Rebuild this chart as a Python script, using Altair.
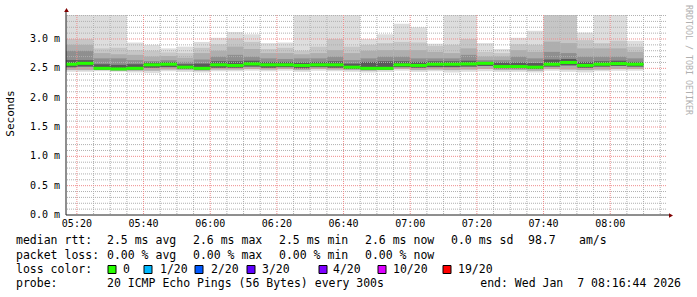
import altair as alt
import pandas as pd

# ---------------- data ----------------
times = ["05:15", "05:20", "05:25", "05:30", "05:35", "05:40", "05:45", "05:50", "05:55",
         "06:00", "06:05", "06:10", "06:15", "06:20", "06:25", "06:30", "06:35", "06:40",
         "06:45", "06:50", "06:55", "07:00", "07:05", "07:10", "07:15", "07:20", "07:25",
         "07:30", "07:35", "07:40", "07:45", "07:50", "07:55", "08:00", "08:05"]

median = [2.57, 2.585, 2.50, 2.49, 2.50, 2.56, 2.57, 2.52, 2.50, 2.56, 2.55, 2.575, 2.56,
          2.56, 2.55, 2.56, 2.56, 2.52, 2.50, 2.50, 2.56, 2.55, 2.57, 2.57, 2.575, 2.585,
          2.53, 2.53, 2.52, 2.57, 2.60, 2.55, 2.57, 2.58, 2.57]

smoke_max = [3.6, 3.6, 3.6, 3.6, 2.94, 2.90, 2.84, 2.87, 2.95, 3.02, 3.12, 3.08, 2.93,
             2.94, 3.6, 3.6, 3.6, 3.6, 3.0, 3.08, 3.26, 3.20, 2.92, 3.6, 3.6, 2.93,
             2.83, 3.02, 3.14, 3.6, 3.6, 3.11, 3.6, 3.6, 2.97]
band2_hi = [3.0, 3.0, 2.84, 2.85, 2.81, 2.80, 2.77, 2.76, 2.85, 2.91, 3.01, 2.95, 2.83,
            2.85, 2.80, 2.87, 3.0, 2.87, 2.90, 2.93, 2.95, 2.94, 2.88, 2.90, 3.0, 2.78,
            2.76, 2.91, 2.90, 3.6, 3.6, 2.98, 2.93, 2.97, 2.87]
band3_hi = [2.90, 2.90, 2.76, 2.74, 2.73, 2.70, 2.71, 2.68, 2.76, 2.80, 2.87, 2.83, 2.76,
            2.76, 2.74, 2.76, 2.81, 2.76, 2.80, 2.81, 2.81, 2.81, 2.78, 2.76, 2.84, 2.70,
            2.70, 2.81, 2.78, 2.955, 2.93, 2.84, 2.84, 2.84, 2.78]
band4_hi = [2.80, 2.80, 2.67, 2.67, 2.64, 2.625, 2.64, 2.61, 2.65, 2.70, 2.73, 2.70, 2.67,
            2.66, 2.67, 2.67, 2.70, 2.64, 2.67, 2.70, 2.70, 2.67, 2.67, 2.67, 2.73, 2.64,
            2.64, 2.70, 2.67, 2.78, 2.76, 2.70, 2.70, 2.70, 2.67]
band5_hi = [2.64, 2.64, 2.57, 2.56, 2.57, 2.60, 2.61, 2.57, 2.58, 2.62, 2.62, 2.63, 2.61,
            2.61, 2.60, 2.61, 2.62, 2.58, 2.61, 2.62, 2.62, 2.61, 2.62, 2.62, 2.63, 2.61,
            2.60, 2.60, 2.59, 2.65, 2.66, 2.61, 2.62, 2.63, 2.61]
ping_min = [2.44, 2.44, 2.45, 2.44, 2.43, 2.42, 2.45, 2.44, 2.43, 2.45, 2.45, 2.46, 2.45,
            2.46, 2.44, 2.46, 2.45, 2.44, 2.43, 2.44, 2.46, 2.44, 2.45, 2.43, 2.44, 2.45,
            2.44, 2.44, 2.43, 2.46, 2.44, 2.43, 2.45, 2.46, 2.46]
band2_lo = [2.47, 2.47, 2.47, 2.46, 2.46, 2.46, 2.48, 2.47, 2.46, 2.48, 2.48, 2.49, 2.48,
            2.49, 2.47, 2.49, 2.48, 2.47, 2.46, 2.47, 2.49, 2.47, 2.48, 2.47, 2.48, 2.49,
            2.47, 2.47, 2.46, 2.49, 2.48, 2.47, 2.48, 2.49, 2.49]
band3_lo = [2.52, 2.53, 2.48, 2.47, 2.48, 2.51, 2.52, 2.49, 2.48, 2.51, 2.51, 2.53, 2.51,
            2.52, 2.50, 2.52, 2.51, 2.49, 2.48, 2.48, 2.52, 2.51, 2.52, 2.52, 2.53, 2.54,
            2.50, 2.50, 2.49, 2.53, 2.55, 2.51, 2.53, 2.54, 2.53]

x_tick_values = [320, 340, 360, 380, 400, 420, 440, 460, 480]   # minutes since midnight
x_tick_labels = ["05:20", "05:40", "06:00", "06:20", "06:40", "07:00", "07:20", "07:40", "08:00"]
y_tick_values = [0.0, 0.5, 1.0, 1.5, 2.0, 2.5, 3.0]
y_tick_labels = ["0.0 m", "0.5 m", "1.0 m", "1.5 m", "2.0 m", "2.5 m", "3.0 m"]

rtt_stats = ["2.5 ms avg", "2.6 ms max", "2.5 ms min", "2.6 ms now", "0.0 ms sd", "98.7", "am/s"]
loss_stats = ["0.00 % avg", "0.00 % max", "0.00 % min", "0.00 % now"]
loss_labels = ["0", "1/20", "2/20", "3/20", "4/20", "10/20", "19/20"]
loss_colors = ["#26ff00", "#00b8ff", "#0059ff", "#5e00ff", "#7e00ff", "#dd00ff", "#ff0000"]
probe_text = "20 ICMP Echo Pings (56 Bytes) every 300s"
end_text = "end: Wed Jan\u00a0\u00a07 08:16:44 2026"

# ---------------- layout / style ----------------
PAD_L, PAD_T = 66, 15
W, H = 600, 200
T0, T1 = 316.7333, 496.7333
band_colors = ["#dddddd", "#c6c6c6", "#aeaeae", "#8f8f8f", "#5a5a5a"]
FONT = "DejaVu Sans Mono"

def minutes(s):
    h, m = s.split(":")
    return int(h) * 60 + int(m)

rows = []
for k, t in enumerate(times):
    s = minutes(t)
    his = [smoke_max[k], band2_hi[k], band3_hi[k], band4_hi[k], band5_hi[k]]
    los = [ping_min[k], band2_lo[k], band2_lo[k], band3_lo[k], band3_lo[k]]
    for j in range(5):
        rows.append(dict(start=s, end=s + 5, lo=los[j], hi=his[j], band=j))
smoke = pd.DataFrame(rows)

med = pd.DataFrame({"start": [minutes(t) for t in times],
                    "end": [minutes(t) + 5 for t in times],
                    "median": median})

xscale = alt.Scale(domain=[T0, T1], nice=False, zero=False)
yscale = alt.Scale(domain=[0, 3.409], nice=False)

smoke_layer = alt.Chart(smoke).mark_rect(clip=True).encode(
    x=alt.X("start:Q", scale=xscale, axis=None),
    x2="end:Q",
    y=alt.Y("lo:Q", scale=yscale, axis=None),
    y2="hi:Q",
    color=alt.Color("band:O", scale=alt.Scale(domain=[0, 1, 2, 3, 4], range=band_colors), legend=None),
    order=alt.Order("band:Q"),
)

# grid
vmin = pd.DataFrame({"gx": [m for m in range(320, 500, 5) if m % 20 != 0]})
vmaj = pd.DataFrame({"gx": x_tick_values})
hmin = pd.DataFrame({"gy": [i / 10 for i in range(1, 35) if i % 5 != 0]})
hmaj = pd.DataFrame({"gy": [0.5, 1.0, 1.5, 2.0, 2.5, 3.0]})

grid_minor_color = "#b0b0b0"
grid_major_color = "#ee8c8c"
gl = [
    alt.Chart(vmin).mark_rule(color=grid_minor_color, strokeDash=[1, 1], strokeWidth=1).encode(
        x=alt.X("gx:Q", scale=xscale, axis=None)),
    alt.Chart(hmin).mark_rule(color=grid_minor_color, strokeDash=[1, 1], strokeWidth=1).encode(
        y=alt.Y("gy:Q", scale=yscale, axis=None)),
    alt.Chart(vmaj).mark_rule(color=grid_major_color, strokeDash=[1, 1], strokeWidth=1).encode(
        x=alt.X("gx:Q", scale=xscale, axis=None)),
    alt.Chart(hmaj).mark_rule(color=grid_major_color, strokeDash=[1, 1], strokeWidth=1).encode(
        y=alt.Y("gy:Q", scale=yscale, axis=None)),
]

median_layer = alt.Chart(med).mark_rule(color=loss_colors[0], strokeWidth=3, clip=True).encode(
    x=alt.X("start:Q", scale=xscale, axis=None),
    x2="end:Q",
    y=alt.Y("median:Q", scale=yscale, axis=None),
)

# axis labels drawn through the scales
xlab = pd.DataFrame({"v": x_tick_values, "t": x_tick_labels})
ylab = pd.DataFrame({"v": y_tick_values, "t": y_tick_labels})
xlab_layer = alt.Chart(xlab).mark_text(align="center", baseline="middle", font=FONT,
                                       fontSize=10, color="#000000").encode(
    x=alt.X("v:Q", scale=xscale, axis=None), y=alt.value(H + 9), text="t:N")
ylab_layer = alt.Chart(ylab).mark_text(align="right", baseline="middle", font=FONT,
                                       fontSize=10, color="#000000").encode(
    y=alt.Y("v:Q", scale=yscale, axis=None), x=alt.value(-6), text="t:N")

dummy = pd.DataFrame({"a": [0]})
axis_col = "#1f1f1f"
arrow_col = "#800000"
axes_layers = [
    alt.Chart(dummy).mark_rule(color=axis_col, strokeWidth=1).encode(
        x=alt.value(0), y=alt.value(-4), y2=alt.value(H)),
    alt.Chart(dummy).mark_rule(color=axis_col, strokeWidth=1).encode(
        x=alt.value(0), x2=alt.value(W + 4), y=alt.value(H)),
    alt.Chart(dummy).mark_point(shape="triangle-up", filled=True, color=arrow_col, size=22, opacity=1).encode(
        x=alt.value(0.5), y=alt.value(-5)),
    alt.Chart(dummy).mark_point(shape="triangle-right", filled=True, color=arrow_col, size=22, opacity=1).encode(
        x=alt.value(W + 5), y=alt.value(H + 0.5)),
]

# legend / text rows (positions in canvas pixels)
def px(x):
    return x - PAD_L

def py(y):
    return y - PAD_T

texts = []
texts.append(("median rtt:", 16, 241))
for s, x in zip(rtt_stats, [107, 193, 279, 365, 451, 528, 579]):
    texts.append((s, x, 241))
texts.append(("packet loss:", 16, 255.5))
for s, x in zip(loss_stats, [107, 193, 279, 365]):
    texts.append((s, x, 255.5))
texts.append(("loss color:", 16, 269.5))
for s, x in zip(loss_labels, [123, 160, 211, 262, 333, 393, 458]):
    texts.append((s, x, 269.5))
texts.append(("probe:", 16, 283.5))
texts.append((probe_text, 107, 283.5))

tdf = pd.DataFrame({"label": [t[0] for t in texts],
                    "tx": [px(t[1]) for t in texts],
                    "ty": [py(t[2]) for t in texts]})
text_layer = alt.Chart(tdf).mark_text(align="left", baseline="middle", font=FONT,
                                      fontSize=11.5, color="#000000").encode(
    x=alt.X("tx:Q", scale=None, axis=None),
    y=alt.Y("ty:Q", scale=None, axis=None),
    text="label:N",
)

end_layer = alt.Chart(dummy).mark_text(align="right", baseline="middle", font=FONT,
                                       fontSize=11.5, color="#000000").encode(
    x=alt.value(px(681)), y=alt.value(py(283.5)), text=alt.value(end_text))

box_x = [108, 144, 195, 247, 319, 378, 443]
bdf = pd.DataFrame({"bx": [px(x) for x in box_x], "bx2": [px(x + 8) for x in box_x],
                    "by": [py(265.5)] * 7, "by2": [py(273.5)] * 7, "c": loss_colors})
box_layer = alt.Chart(bdf).mark_rect(stroke="#000000", strokeWidth=1).encode(
    x=alt.X("bx:Q", scale=None, axis=None), x2="bx2:Q",
    y=alt.Y("by:Q", scale=None, axis=None), y2="by2:Q",
    fill=alt.Fill("c:N", scale=None, legend=None),
)

ytitle = alt.Chart(dummy).mark_text(angle=270, align="center", baseline="middle", font=FONT,
                                    fontSize=11, color="#000000").encode(
    x=alt.value(px(11)), y=alt.value(py(113.5)), text=alt.value("Seconds"))

watermark = alt.Chart(dummy).mark_text(angle=90, align="left", baseline="middle", font=FONT,
                                       fontSize=8.3, color="#b0b0b0").encode(
    x=alt.value(px(687.5)), y=alt.value(py(5)), text=alt.value("RRDTOOL / TOBI OETIKER"))

chart = alt.layer(
    smoke_layer, *gl, median_layer, xlab_layer, ylab_layer, *axes_layers,
    text_layer, end_layer, box_layer, ytitle, watermark
).properties(
    width=W, height=H,
    padding={"left": PAD_L, "top": PAD_T, "right": 697 - PAD_L - W, "bottom": 297 - PAD_T - H},
    autosize=alt.AutoSizeParams(type="none"),
    background="#ffffff",
).configure_view(stroke=None)

chart.save("out.html", embed_options={"renderer": "svg", "actions": False})
